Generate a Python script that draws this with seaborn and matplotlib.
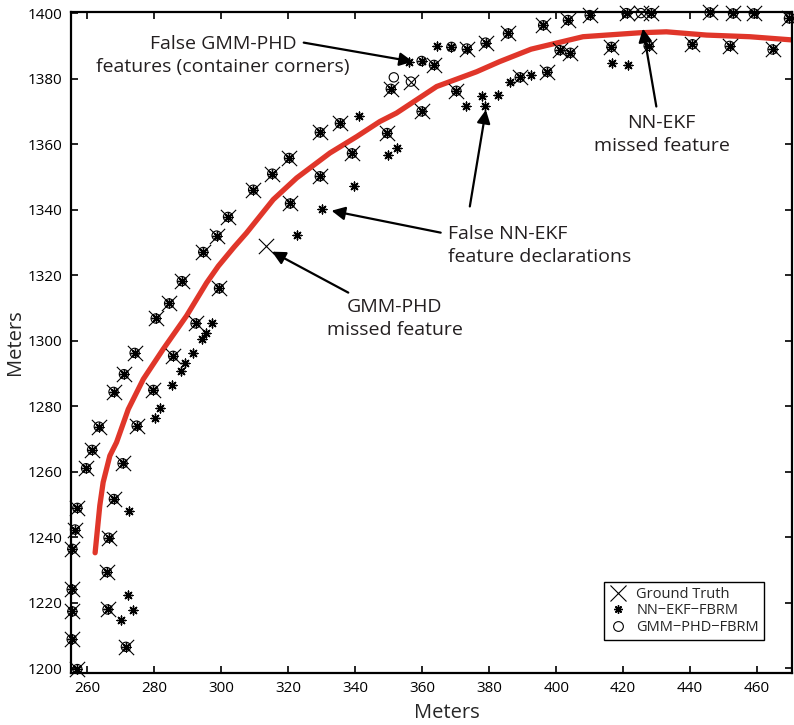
import numpy as np
import pandas as pd
import matplotlib
matplotlib.use("Agg")
import matplotlib.pyplot as plt
from matplotlib.lines import Line2D
import seaborn as sns

# Features seen by all three sources (ground truth, NN-EKF, GMM-PHD)
common_x = [261.4, 259.6, 270.5, 257.0, 267.9, 256.3, 266.3, 255.5, 265.8, 255.3,
            255.5, 266.0, 255.3, 271.5, 257.0, 263.4, 274.7, 267.8, 279.7, 270.9,
            274.1, 285.6, 280.4, 284.4, 288.2, 292.3, 299.3, 294.6, 298.6, 302.0,
            309.5, 315.2, 320.2, 320.5, 329.4, 329.4, 335.4, 339.0, 349.5, 350.6,
            363.5, 373.3, 378.9, 385.6, 359.8, 370.2, 389.1, 397.3, 396.1, 403.5,
            410.0, 421.0, 428.4, 445.8, 452.8, 459.0, 469.5, 401.0, 404.2, 416.5,
            427.6, 440.7, 451.8, 464.6]
common_y = [1266.7, 1261.1, 1262.6, 1249.0, 1251.7, 1242.4, 1239.9, 1236.5, 1229.4, 1224.1,
            1217.4, 1218.0, 1208.9, 1206.6, 1199.8, 1273.8, 1274.1, 1284.4, 1285.0, 1289.8,
            1296.3, 1295.4, 1306.8, 1311.4, 1318.2, 1305.3, 1316.0, 1327.1, 1332.1, 1337.8,
            1346.1, 1351.0, 1355.8, 1341.9, 1350.2, 1363.6, 1366.4, 1357.2, 1363.4, 1376.9,
            1384.2, 1389.2, 1391.0, 1393.8, 1370.0, 1376.3, 1380.4, 1382.1, 1396.3, 1397.9,
            1399.4, 1400.0, 1400.0, 1400.2, 1399.9, 1399.9, 1398.4, 1388.7, 1387.9, 1389.7,
            1390.0, 1390.5, 1390.0, 1388.9]

# Ground-truth features missed by one or both filters
gt_extra_x = [356.6, 425.3, 313.3]
gt_extra_y = [1379.1, 1400.0, 1328.9]

# NN-EKF declarations with no matching ground truth
ekf_extra_x = [272.4, 272.2, 273.7, 270.0, 280.2, 281.7, 285.3, 287.9, 289.0, 291.4,
               294.2, 295.5, 297.1, 322.5, 330.2, 339.7, 341.1, 349.8, 352.6, 356.0,
               364.5, 373.0, 377.7, 378.7, 382.6, 386.2, 392.6, 416.8, 421.3,
               359.8, 368.7]
ekf_extra_y = [1247.9, 1222.3, 1217.7, 1214.9, 1276.4, 1279.4, 1286.5, 1290.8, 1293.2, 1296.3,
               1300.5, 1302.5, 1305.3, 1332.4, 1340.3, 1347.3, 1368.6, 1356.8, 1358.8, 1385.2,
               1390.0, 1371.7, 1374.7, 1371.7, 1375.0, 1379.1, 1381.1, 1384.9, 1384.2,
               1385.4, 1389.7]

# GMM-PHD estimates outside the common set (incl. container corners)
phd_extra_x = [356.6, 425.3, 351.5, 359.8, 368.7]
phd_extra_y = [1379.1, 1400.0, 1380.4, 1385.4, 1389.7]

# Vehicle trajectory
path_x = [262.3, 263.7, 264.7, 266.7, 268.7, 272.2, 276.7, 282.6, 289.6, 295.6,
          299.1, 303.8, 307.5, 315.5, 322.5, 332.4, 340.4, 347.3, 352.3, 364.3,
          376.2, 383.1, 392.5, 408.0, 424.9, 432.9, 444.9, 457.8, 470.7]
path_y = [1235.3, 1249.7, 1256.8, 1264.9, 1269.0, 1279.1, 1288.3, 1297.4, 1307.6, 1317.7,
          1322.8, 1328.6, 1332.9, 1343.1, 1349.7, 1357.3, 1362.3, 1366.9, 1369.5, 1377.6,
          1382.1, 1385.2, 1389.0, 1392.8, 1394.0, 1394.3, 1393.3, 1392.8, 1391.8]

gt = pd.DataFrame({"x": common_x + gt_extra_x, "y": common_y + gt_extra_y})
ekf = pd.DataFrame({"x": common_x + ekf_extra_x, "y": common_y + ekf_extra_y})
phd = pd.DataFrame({"x": common_x + phd_extra_x, "y": common_y + phd_extra_y})
path = pd.DataFrame({"x": path_x, "y": path_y})

sns.set_theme(style="ticks")
plt.rcParams["font.family"] = ["Open Sans", "DejaVu Sans"]

fig = plt.figure(figsize=(7.94, 7.25), dpi=100)
ax = fig.add_axes([0.089, 0.0717, 0.908, 0.912])

sns.lineplot(data=path, x="x", y="y", sort=False, color="#e0362a", linewidth=3.8,
             ax=ax, zorder=2)

star = (8, 2, 0)
sns.scatterplot(data=phd, x="x", y="y", marker="o", s=45, facecolor="none",
                edgecolor="black", linewidth=0.8, ax=ax, zorder=3)
sns.scatterplot(data=ekf, x="x", y="y", marker=star, s=40, color="black",
                linewidth=1.0, ax=ax, zorder=4)
sns.scatterplot(data=gt, x="x", y="y", marker="x", s=121, color="black",
                linewidth=0.8, ax=ax, zorder=5)
for coll in ax.collections:
    coll.set_clip_on(False)

ax.set_xlim(255, 470.3)
ax.set_ylim(1198.6, 1400.4)
ax.set_xticks(np.arange(260, 461, 20))
ax.set_yticks(np.arange(1200, 1401, 20))
ax.tick_params(direction="in", length=5, width=1.2, top=True, right=True,
               labelsize=11, pad=6, colors="black")
for sp in ax.spines.values():
    sp.set_visible(True)
    sp.set_linewidth(1.6)
    sp.set_color("black")

ax.set_xlabel("Meters", fontsize=14.5, labelpad=4)
ax.set_ylabel("Meters", fontsize=14.5, labelpad=2)
ax.xaxis.set_label_coords(0.522, -0.045)

txt = dict(fontsize=14, color="#231f20", linespacing=1.35)
ax.text(300.5, 1387.2, "False GMM-PHD\nfeatures (container corners)", ha="center",
        va="center", **txt)
ax.text(431.5, 1363.0, "NN-EKF\nmissed feature", ha="center", va="center", **txt)
ax.text(351.8, 1306.8, "GMM-PHD\nmissed feature", ha="center", va="center", **txt)
ax.text(367.6, 1329.2, "False NN-EKF\nfeature declarations", ha="left", va="center", **txt)

arrow = dict(arrowstyle="-|>", color="black", lw=1.6, mutation_scale=20,
             shrinkA=0, shrinkB=0)
ax.annotate("", xy=(357.2, 1385.2), xytext=(324.6, 1391.0), arrowprops=arrow)
ax.annotate("", xy=(425.9, 1395.3), xytext=(429.9, 1371.5), arrowprops=arrow)
ax.annotate("", xy=(315.1, 1327.2), xytext=(337.9, 1314.7), arrowprops=arrow)
ax.annotate("", xy=(332.9, 1339.7), xytext=(365.5, 1333.0), arrowprops=arrow)
ax.annotate("", xy=(379.0, 1370.5), xytext=(374.2, 1341.0), arrowprops=arrow)

handles = [
    Line2D([], [], marker="x", linestyle="none", color="black", markersize=12,
           markeredgewidth=0.8),
    Line2D([], [], marker=star, linestyle="none", color="black", markersize=6,
           markeredgewidth=1.0),
    Line2D([], [], marker="o", linestyle="none", markerfacecolor="none",
           markeredgecolor="black", markersize=7, markeredgewidth=0.8),
]
labels = ["Ground Truth", "NN\u2212EKF\u2212FBRM", "GMM\u2212PHD\u2212FBRM"]
leg = ax.legend(handles, labels, loc="lower right", bbox_to_anchor=(0.962, 0.05),
                fontsize=10.5, frameon=True, fancybox=False, framealpha=1,
                edgecolor="black", borderpad=0.35, labelspacing=0.1,
                handletextpad=0.6, handlelength=1.3, borderaxespad=0)
leg.get_frame().set_linewidth(1.0)

fig.savefig("out.png", dpi=100)
